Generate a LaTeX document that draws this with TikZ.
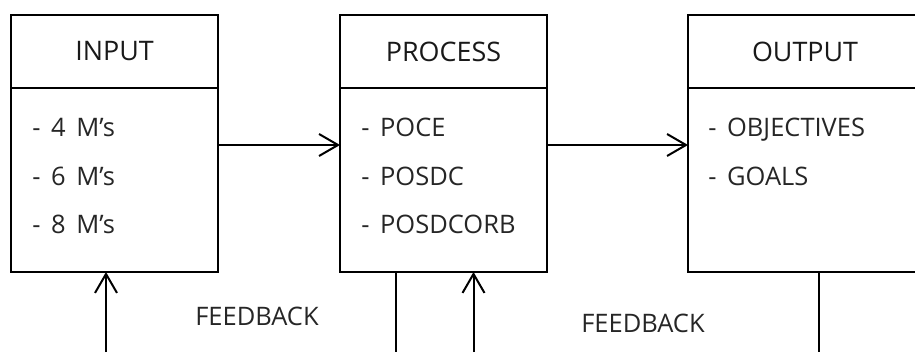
\documentclass[tikz,border=0pt]{standalone}
\usepackage{fontspec}
\setmainfont{Open Sans}[WordSpace=1.6]
\usetikzlibrary{arrows.meta,positioning}
\tikzset{
  headbox/.style={draw, line width=0.36mm, outer sep=0pt, inner sep=0pt, minimum width=4.14cm, minimum height=1.46cm, font=\fontsize{15.3}{18}\selectfont, text=black!90},
  bodybox/.style={draw, line width=0.36mm, outer sep=0pt, inner sep=0pt, minimum width=4.14cm, minimum height=3.68cm},
  itemtext/.style={anchor=base west, inner sep=0pt, font=\fontsize{14.5}{17}\selectfont, text=black!85},
  fbtext/.style={inner sep=0pt, font=\fontsize{14.5}{17}\selectfont, text=black!85},
  flow/.style={line width=0.4mm, -{Straight Barb[length=3.8mm, width=4.4mm]}},
  back/.style={line width=0.27mm}
}

\begin{document}
\begin{tikzpicture}[x=0.02cm, y=0.02cm]
		%%%%% START %%%%%
		\useasboundingbox (0, 0) rectangle (915, 352);
		\clip (0, 0) rectangle (915, 352);
		
		\node[headbox] (inhead) at (114.5, 300.5) {INPUT};
		\node[bodybox, below=0pt of inhead] (inbody) {};
		\node[itemtext] (in1) at (32, 215) {- 4 M’s};
		\node[itemtext] (in2) at (32, 167) {- 6 M’s};
		\node[itemtext] (in3) at (32, 119) {- 8 M’s};
		
		\node[headbox] (prochead) at (443.5, 300.5) {PROCESS};
		\node[bodybox, below=0pt of prochead] (procbody) {};
		\node[itemtext] (proc1) at (361, 215) {- POCE};
		\node[itemtext] (proc2) at (361, 167) {- POSDC};
		\node[itemtext] (proc3) at (361, 119) {- POSDCORB};
		
		\node[headbox, minimum width=4.68cm] (outhead) at (805, 300.5) {OUTPUT};
		\node[bodybox, minimum width=4.68cm, below=0pt of outhead] (outbody) {};
		\node[itemtext] (out1) at (708, 215) {- OBJECTIVES};
		\node[itemtext] (out2) at (708, 167) {- GOALS};
		
		\coordinate (mid) at (0, 207);
		\draw[flow] (inbody.east |- mid) -- (procbody.west |- mid);
		\draw[flow] (procbody.east |- mid) -- (outbody.west |- mid);
		
		\coordinate (fbA) at (106, 0);
		\draw[flow] (fbA) -- (fbA |- inbody.south);
		\coordinate (fbB) at (396, 0);
		\draw[back] (procbody.south -| fbB) -- (fbB);
		\coordinate (fbC) at (473.5, 0);
		\draw[flow] (fbC) -- (fbC |- procbody.south);
		\coordinate (fbD) at (819, 0);
		\draw[back] (outbody.south -| fbD) -- (fbD);
		
		\node[fbtext] (fbA text) at (257, 36) {FEEDBACK};
		\node[fbtext] (fbC text) at (643, 29) {FEEDBACK};
		%%%%% END %%%%%
	\end{tikzpicture}
\end{document}
